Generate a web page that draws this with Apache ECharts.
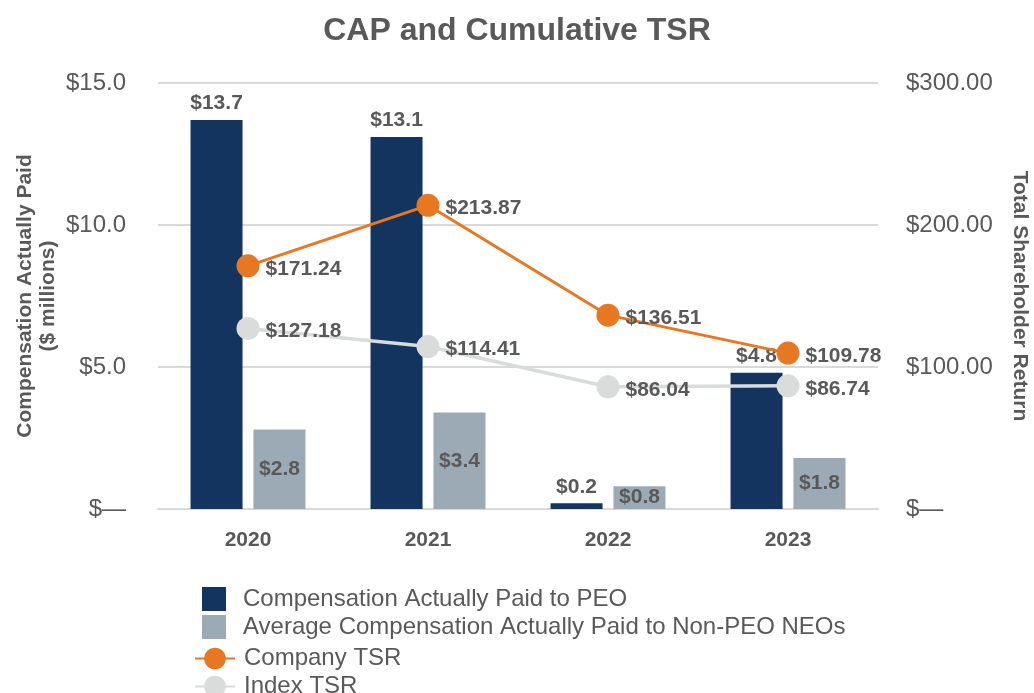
<!DOCTYPE html>
<html>
<head>
<meta charset="utf-8">
<script src="https://cdn.jsdelivr.net/npm/echarts@6/dist/echarts.min.js"></script>
<style>
html,body{margin:0;padding:0;background:#fff;}
#chart{width:1034px;height:693px;}
</style>
</head>
<body>
<div id="chart"></div>
<script>
const categories = ['2020', '2021', '2022', '2023'];
const capPEO = [13.7, 13.1, 0.2, 4.8];
const capNonPEO = [2.8, 3.4, 0.8, 1.8];
const companyTSR = [171.24, 213.87, 136.51, 109.78];
const indexTSR = [127.18, 114.41, 86.04, 86.74];
const leftTicks = { min: 0, max: 15, interval: 5 };
const rightTicks = { min: 0, max: 300, interval: 100 };

const TXT = '#595959';
const FONT = 'Liberation Sans, Arial, sans-serif';

const chart = echarts.init(document.getElementById('chart'), null, { renderer: 'canvas' });

const barLabel = (pos, dist) => ({
  show: true, position: pos, distance: dist,
  color: TXT, fontWeight: 'bold', fontSize: 21, fontFamily: FONT,
  formatter: p => '$' + p.value.toFixed(1)
});
const lineLabel = {
  show: true, position: 'right', distance: 6, offset: [0, 3],
  color: TXT, fontWeight: 'bold', fontSize: 21, fontFamily: FONT,
  formatter: p => '$' + p.value.toFixed(2)
};

chart.setOption({
  animation: false,
  backgroundColor: '#ffffff',
  textStyle: { fontFamily: FONT },
  title: {
    text: 'CAP and Cumulative TSR',
    left: 'center', top: 10,
    textStyle: { color: TXT, fontSize: 32, fontWeight: 'bold', fontFamily: FONT }
  },
  legend: [
    {
      orient: 'vertical', left: 194, top: 587, height: 70, padding: 0,
      itemWidth: 40, itemHeight: 24, itemGap: 4,
      data: [
        { name: 'Compensation Actually Paid to PEO', icon: 'path://M0,0M40,24M8,0h24v24h-24z' },
        { name: 'Average Compensation Actually Paid to Non-PEO NEOs', icon: 'path://M0,0M40,24M8,0h24v24h-24z' }
      ],
      textStyle: { color: TXT, fontSize: 24, fontFamily: FONT, padding: [0, 0, 0, 4] }
    },
    {
      orient: 'vertical', left: 194, top: 646.5, height: 80, padding: 0,
      itemWidth: 40, itemHeight: 27, itemGap: 4,
      data: ['Company TSR', 'Index TSR'],
      textStyle: { color: TXT, fontSize: 24, fontFamily: FONT, padding: [0, 0, 0, 4] }
    }
  ],
  grid: { left: 158, right: 156, top: 83, bottom: 184, containLabel: false, outerBoundsMode: 'none' },
  xAxis: {
    type: 'category', data: categories,
    axisLine: { show: true, lineStyle: { color: '#d9d9d9', width: 2 } },
    axisTick: { show: false },
    axisLabel: { color: TXT, fontSize: 21, fontWeight: 'bold', margin: 21, fontFamily: FONT }
  },
  yAxis: [
    {
      type: 'value', min: leftTicks.min, max: leftTicks.max, interval: leftTicks.interval,
      name: 'Compensation Actually Paid\n($ millions)', nameLocation: 'middle', nameGap: 98,
      nameMoveOverlap: false,
      nameTextStyle: { color: TXT, fontSize: 21, fontWeight: 'bold', lineHeight: 23, fontFamily: FONT },
      axisLine: { show: false }, axisTick: { show: false },
      axisLabel: { color: TXT, fontSize: 24, margin: 32, fontFamily: FONT,
        formatter: v => v === 0 ? '$\u2014' : '$' + v.toFixed(1) },
      splitLine: { show: true, lineStyle: { color: '#d9d9d9', width: 2 } }
    },
    {
      type: 'value', min: rightTicks.min, max: rightTicks.max, interval: rightTicks.interval,
      name: 'Total Shareholder Return', nameLocation: 'middle', nameGap: 131, nameRotate: -90,
      nameTextStyle: { color: TXT, fontSize: 21, fontWeight: 'bold', fontFamily: FONT },
      axisLine: { show: false }, axisTick: { show: false },
      axisLabel: { color: TXT, fontSize: 24, margin: 28, fontFamily: FONT,
        formatter: v => v === 0 ? '$\u2014' : '$' + v.toFixed(2) },
      splitLine: { show: false }
    }
  ],
  series: [
    {
      name: 'Compensation Actually Paid to PEO', type: 'bar', data: capPEO,
      barWidth: 52, barGap: '21%',
      itemStyle: { color: '#13345f' },
      label: barLabel('top', 6)
    },
    {
      name: 'Average Compensation Actually Paid to Non-PEO NEOs', type: 'bar', data: capNonPEO,
      barWidth: 52, barGap: '21%',
      itemStyle: { color: '#9baab5' },
      label: barLabel('inside', 5)
    },
    {
      name: 'Company TSR', type: 'line', yAxisIndex: 1, data: companyTSR,
      symbol: 'circle', symbolSize: 23,
      lineStyle: { color: '#e87722', width: 3 },
      itemStyle: { color: '#e87722' },
      label: lineLabel, z: 5
    },
    {
      name: 'Index TSR', type: 'line', yAxisIndex: 1, data: indexTSR,
      symbol: 'circle', symbolSize: 23,
      lineStyle: { color: '#d9dcdb', width: 3.5 },
      itemStyle: { color: '#d9dcdb' },
      label: lineLabel, z: 4
    }
  ]
});
</script>
</body>
</html>
